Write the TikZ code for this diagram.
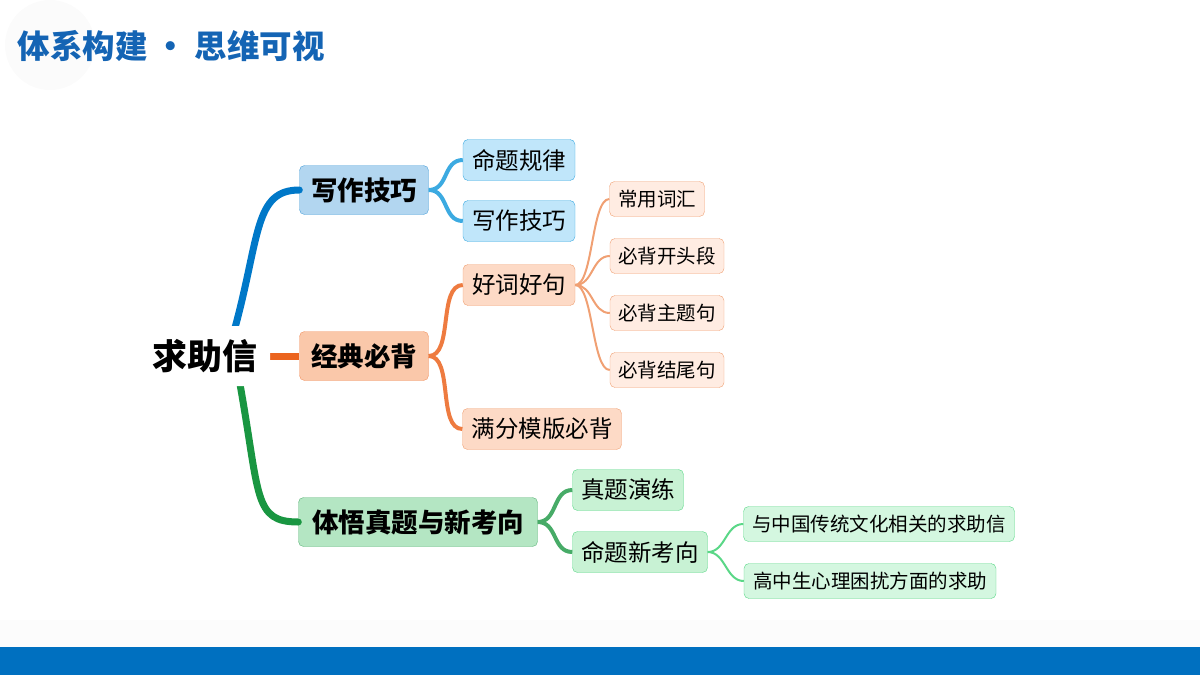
\documentclass[tikz,border=0pt]{standalone}
\usepackage{fontspec}
\setmainfont{Noto Sans CJK SC}
\usetikzlibrary{calc}
\definecolor{bluedk}{RGB}{0,120,200}
\definecolor{bluefill}{RGB}{178,214,240}
\definecolor{bluelt}{RGB}{192,230,250}
\definecolor{bluebd}{RGB}{60,170,225}
\definecolor{orgdk}{RGB}{235,100,30}
\definecolor{orgfill}{RGB}{250,200,170}
\definecolor{orglt}{RGB}{253,218,198}
\definecolor{orgpale}{RGB}{255,236,226}
\definecolor{orgbd}{RGB}{240,160,115}
\definecolor{grndk}{RGB}{25,150,65}
\definecolor{grnfill}{RGB}{180,230,195}
\definecolor{grnlt}{RGB}{200,242,212}
\definecolor{grnpale}{RGB}{212,247,224}
\definecolor{grnbd}{RGB}{90,215,135}
\definecolor{titleblue}{RGB}{20,100,180}
\definecolor{barblue}{RGB}{0,112,192}
\tikzset{
  box/.style={rounded corners=5pt, text=black, inner sep=0pt, minimum height=41pt},
  topbox/.style={box, font=\bfseries\fontsize{26.5}{26.5}\selectfont, minimum height=49pt, minimum width=129pt},
  midbox/.style={box, font=\fontsize{23.5}{23.5}\selectfont},
  leafbox/.style={box, font=\fontsize{19.5}{19.5}\selectfont, minimum height=35pt},
  fat/.style={line width=7pt},
  mid/.style={line width=4pt},
  thin/.style={line width=2pt}
}
\newcommand{\curve}[4]{\draw[#1] (#2) .. controls ($(#2)+(#4,0)$) and ($(#3)+(-#4,0)$) .. (#3);}
\begin{document}
\begin{tikzpicture}[x=1pt,y=-1pt]
\useasboundingbox (0,0) rectangle (1200,675);
% header and footer
\fill[gray!3] (50,45) circle (45);
\node[font=\bfseries\fontsize{32.5}{32.5}\selectfont, text=titleblue, anchor=west] (title) at (14,46) {体系构建 · 思维可视};
\fill[gray!2] (0,620) rectangle (1200,647);
\fill[barblue] (0,647) rectangle (1200,675);
% nodes
\node[box, fill=white, font=\bfseries\fontsize{35}{35}\selectfont, minimum width=130pt, minimum height=60pt] (root) at (205,356) {求助信};
\node[topbox, fill=bluefill, draw=bluedk!70] (skill) at (364,190) {写作技巧};
\node[topbox, fill=orgfill, draw=orgdk!70] (classic) at (364,356) {经典必背};
\node[topbox, fill=grnfill, draw=grndk!70, minimum width=239pt] (real) at (418,522) {体悟真题与新考向};
\node[midbox, fill=bluelt, draw=bluebd, minimum width=112pt] (rule) at (519,160) {命题规律};
\node[midbox, fill=bluelt, draw=bluebd, minimum width=112pt] (skill2) at (519,221) {写作技巧};
\node[midbox, fill=orglt, draw=orgbd, minimum width=112pt] (words) at (519,285) {好词好句};
\node[midbox, fill=orglt, draw=orgbd, minimum width=159pt] (model) at (542,429) {满分模版必背};
\node[leafbox, fill=orgpale, draw=orgbd, minimum width=95pt] (vocab) at (657,199) {常用词汇};
\node[leafbox, fill=orgpale, draw=orgbd, minimum width=114pt] (opening) at (667,256) {必背开头段};
\node[leafbox, fill=orgpale, draw=orgbd, minimum width=114pt] (theme) at (667,313) {必背主题句};
\node[leafbox, fill=orgpale, draw=orgbd, minimum width=114pt] (ending) at (667,370) {必背结尾句};
\node[midbox, fill=grnlt, draw=grnbd, minimum width=111pt] (drill) at (628,490) {真题演练};
\node[midbox, fill=grnlt, draw=grnbd, minimum width=135pt] (trend) at (640,552) {命题新考向};
\node[leafbox, fill=grnpale, draw=grnbd, minimum width=271pt] (culture) at (879,524) {与中国传统文化相关的求助信};
\node[leafbox, fill=grnpale, draw=grnbd, minimum width=252pt] (mind) at (870,581) {高中生心理困扰方面的求助};
% connectors
\draw[fat, bluedk, line cap=round] ($(root.north)+(30,2)$) .. controls ($(root.north)+(55,-90)$) and ($(skill.west)+(-45,0)$) .. (skill.west);
\draw[fat, orgdk] (root.east) -- (classic.west);
\draw[fat, grndk, line cap=round] ($(root.south)+(35,-2)$) .. controls ($(root.south)+(55,110)$) and ($(real.west)+(-45,0)$) .. (real.west);
\curve{mid, bluebd}{skill.east}{rule.west}{20}
\curve{mid, bluebd}{skill.east}{skill2.west}{20}
\curve{mid, orgdk!85}{classic.east}{words.west}{25}
\curve{mid, orgdk!85}{classic.east}{model.west}{25}
\curve{thin, orgbd}{words.east}{vocab.west}{18}
\curve{thin, orgbd}{words.east}{opening.west}{18}
\curve{thin, orgbd}{words.east}{theme.west}{18}
\curve{thin, orgbd}{words.east}{ending.west}{18}
\curve{mid, grndk!80}{real.east}{drill.west}{20}
\curve{mid, grndk!80}{real.east}{trend.west}{20}
\curve{thin, grnbd}{trend.east}{culture.west}{18}
\curve{thin, grnbd}{trend.east}{mind.west}{18}
% redraw root on top of its connectors
\node[box, fill=white, font=\bfseries\fontsize{35}{35}\selectfont, minimum width=130pt, minimum height=60pt] at (root) {求助信};
\end{tikzpicture}
\end{document}
